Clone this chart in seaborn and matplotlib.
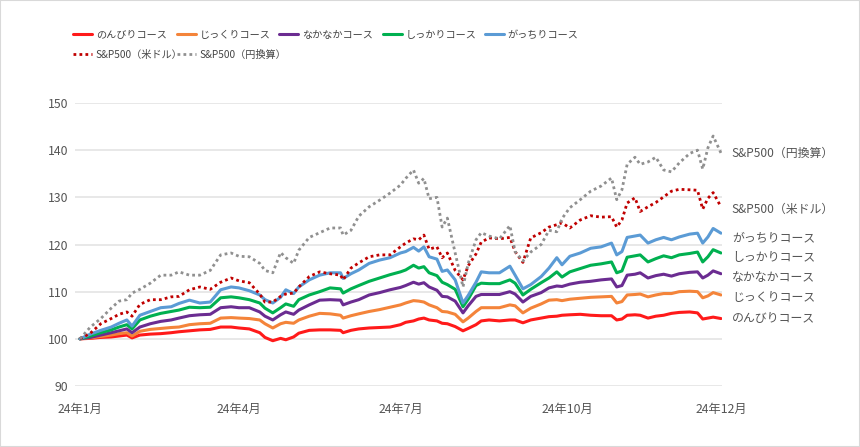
import matplotlib
matplotlib.use('Agg')
from matplotlib import pyplot as plt
from matplotlib.patches import Rectangle
import seaborn as sns
import pandas as pd

sns.set_style('white')
plt.rcParams['font.family'] = ['Noto Sans CJK JP', 'DejaVu Sans']

# trading-day index since 2024-01-02 (sampled)
days = [0, 4, 8, 12, 15, 18, 20, 23, 27, 31, 35, 38, 42, 46, 50, 54, 58, 61, 65, 69,
        71, 74, 77, 79, 82, 84, 88, 92, 96, 100, 101, 104, 107, 111, 115, 119, 123, 125, 128, 130,
        132, 134, 137, 139, 141, 144, 147, 149, 152, 154, 157, 161, 165, 167, 170, 173, 177, 180, 183, 185,
        188, 192, 196, 200, 204, 206, 208, 210, 213, 215, 218, 221, 224, 227, 230, 234, 237, 239, 241, 243,
        246]

tick_days = [0, 61, 123, 187, 246]
tick_labels = ['24年1月', '24年4月', '24年7月', '24年10月', '24年12月']

nonbiri = [100, 100.1, 100.3, 100.4, 100.6, 100.8, 100.2, 100.8, 101, 101.1,
           101.3, 101.5, 101.7, 101.9, 102, 102.5, 102.5, 102.3, 102.1, 101.3,
           100.3, 99.6, 100.1, 99.8, 100.4, 101.2, 101.8, 101.9, 101.9, 101.8,
           101.3, 101.8, 102.1, 102.3, 102.4, 102.5, 103, 103.5, 103.8, 104.2,
           104.4, 104, 103.8, 103.3, 103.2, 102.6, 101.7, 102.2, 103, 103.8,
           104, 103.8, 104, 104, 103.4, 104, 104.4, 104.7, 104.8, 105,
           105.1, 105.2, 105, 104.9, 104.9, 104, 104.2, 105, 105.1, 105,
           104.4, 104.8, 105, 105.4, 105.6, 105.7, 105.5, 104.2, 104.4, 104.6,
           104.3]
jikkuri = [100, 100.2, 100.5, 100.8, 101.1, 101.3, 100.6, 101.6, 102, 102.2,
           102.4, 102.5, 103, 103.2, 103.3, 104.4, 104.5, 104.4, 104.3, 104,
           103.2, 102.3, 103.2, 103.5, 103.3, 104, 104.8, 105.4, 105.3, 105,
           104.4, 104.9, 105.3, 105.8, 106.2, 106.7, 107.2, 107.6, 108.1, 108,
           107.8, 107.2, 106.6, 105.8, 105.7, 105.2, 103.6, 104.4, 105.8, 106.6,
           106.6, 106.6, 107.2, 107, 105.5, 106.5, 107.4, 108.2, 108.3, 108.1,
           108.4, 108.6, 108.8, 108.9, 109, 107.6, 107.9, 109.3, 109.4, 109.5,
           108.9, 109.3, 109.6, 109.6, 110, 110.1, 110, 108.7, 109.1, 109.8,
           109.3]
nakanaka = [100, 100.3, 100.8, 101.3, 101.7, 102.1, 101.3, 102.5, 103.2, 103.7,
            104, 104.4, 104.9, 105.1, 105.2, 106.6, 106.8, 106.6, 106.6, 105.7,
            104.8, 104, 105.1, 105.7, 105.2, 106.1, 107.2, 108.2, 108.3, 108.2,
            107.2, 107.8, 108.3, 109.3, 109.8, 110.4, 110.9, 111.3, 112, 111.6,
            111.9, 111, 110.3, 109, 108.9, 108, 105.5, 107, 109, 109.4,
            109.4, 109.4, 110, 109.5, 107.8, 109, 109.8, 110.8, 111.2, 111.1,
            111.6, 112, 112.2, 112.5, 112.7, 111, 111.3, 113.5, 113.7, 114,
            112.9, 113.4, 113.7, 113.3, 113.8, 114.1, 114.2, 112.9, 113.5, 114.4,
            113.8]
shikkari = [100, 100.6, 101.3, 101.9, 102.5, 103, 102.1, 104, 104.8, 105.4,
            105.8, 106.1, 106.7, 106.6, 106.7, 108.7, 108.9, 108.7, 108.3, 107.6,
            106.5, 105.5, 106.6, 107.4, 106.9, 108.3, 109.3, 110, 110.8, 110.6,
            109.7, 110.6, 111.3, 112.2, 112.9, 113.6, 114.2, 114.6, 115.6, 115,
            115.3, 114, 113.4, 112, 111.5, 110.5, 106.8, 108.4, 111.3, 111.8,
            111.7, 111.7, 112.5, 111.8, 109.3, 110.5, 111.9, 112.9, 114.2, 113.1,
            114.2, 114.9, 115.6, 115.9, 116.3, 114, 114.4, 117.3, 117.6, 117.8,
            116.3, 117, 117.6, 117.2, 117.8, 118.1, 118.4, 116.3, 117.4, 118.9,
            118.2]
gacchiri = [100, 101, 101.8, 102.5, 103.3, 104, 102.7, 105, 105.8, 106.6,
            106.8, 107.5, 108.2, 107.6, 107.8, 110.4, 111, 110.8, 110.2, 109.3,
            108.3, 107.6, 108.8, 110.4, 109.6, 111, 112.5, 113.5, 114, 114,
            112.8, 113.8, 114.6, 116, 116.7, 117.2, 118.2, 118.5, 119.4, 118.6,
            119.5, 117.4, 116.9, 114.3, 114.6, 112.5, 107.6, 109.2, 112, 114.2,
            114, 114, 115.4, 113.5, 110.6, 111.5, 113.2, 115, 117.2, 115.7,
            117.5, 118.2, 119.2, 119.5, 120.3, 117.8, 118.5, 121.5, 121.8, 122,
            120.3, 121, 121.5, 121, 121.6, 122.2, 122.4, 120.3, 121.6, 123.4,
            122.4]
sp500_usd = [100, 101.2, 103.2, 104.3, 105.2, 105.7, 104.8, 107.3, 108.3, 108.3,
             108.9, 109, 110.4, 111, 110.5, 112, 112.9, 112.3, 111.9, 109.5,
             107.8, 107.8, 109, 109.5, 109.7, 111, 113.2, 114.2, 113.8, 113.5,
             112.5, 115, 116.1, 117.4, 117.8, 117.8, 119.5, 120.3, 121.2, 121,
             122, 119, 119.5, 117.2, 118.2, 114.5, 112.5, 115.5, 118, 120.5,
             121.4, 121.2, 121.5, 118.5, 116.2, 121.4, 122.5, 123.7, 124.2, 124.6,
             123.5, 125.2, 126.1, 125.8, 125.9, 123.7, 125.2, 128.8, 129.9, 127,
             128, 128.9, 130.1, 131.3, 131.7, 131.6, 131.5, 127.5, 129.8, 131,
             128]
sp500_jpy = [100, 102.5, 104.3, 106.5, 108, 108.3, 109.7, 110.5, 111.8, 113.5,
             113.5, 114.2, 113.5, 113.5, 114.5, 117.8, 118.2, 117.5, 117.4, 116,
             114.5, 114, 118.3, 117.2, 116, 118.8, 121.5, 122.5, 123.5, 123.5,
             122, 123, 126, 128, 129.4, 130.9, 132.6, 134, 135.8, 133,
             134, 129.7, 130, 123.7, 125.6, 118.2, 111, 116, 121, 122.5,
             121.8, 121.2, 124, 118.5, 116.5, 118.4, 120, 123, 122.7, 125.5,
             127.8, 129.5, 131.3, 132.4, 134.1, 129.5, 131.6, 137, 138.5, 137,
             137.5, 138.5, 135.8, 135.4, 137.3, 139.3, 140, 136, 140.5, 143,
             139.4]

names = ['のんびりコース', 'じっくりコース', 'なかなかコース', 'しっかりコース', 'がっちりコース',
         'S&P500（米ドル）', 'S&P500（円換算）']
series = [nonbiri, jikkuri, nakanaka, shikkari, gacchiri, sp500_usd, sp500_jpy]
colors = ['#ff1a1a', '#f4843a', '#6b2c91', '#00b050', '#5b9bd5', '#c00000', '#909090']
dash = ['', '', '', '', '', (1, 1.2), (1, 1.2)]

# right-hand labels (spread apart so they don't overlap)
label_pos = [104.4, 108.7, 112.9, 117.2, 121.4, 127.5, 139.4]

df = pd.concat([pd.DataFrame({'day': days, 'value': s, 'series': n})
                for n, s in zip(names, series)])

fig = plt.figure(figsize=(8.6, 4.47), dpi=100)
ax = fig.add_axes([75 / 860, 61 / 447, 647 / 860, 283 / 447])

sns.lineplot(data=df, x='day', y='value', hue='series', style='series',
             hue_order=names, style_order=names,
             palette=dict(zip(names, colors)), dashes=dict(zip(names, dash)),
             linewidth=2.2, legend=False, ax=ax)

# the two index lines are thinner dotted lines
for line in ax.get_lines()[5:]:
    line.set_linewidth(2.0)
    line.set_dashes((1, 1.15))

ax.set_xlim(-1.9, 246.4)
ax.set_ylim(90, 150)
ax.set_yticks(range(90, 151, 10))
ax.set_xticks(tick_days)
ax.set_xticklabels(tick_labels)
ax.set_xlabel('')
ax.set_ylabel('')
for sp in ax.spines.values():
    sp.set_visible(False)
ax.grid(axis='y', color='#e6e6e6', linewidth=1.3)
ax.grid(axis='x', visible=False)
ax.tick_params(axis='y', length=0, pad=5, labelsize=8.8, labelcolor='#555555')
ax.tick_params(axis='x', length=4, width=1, color='#dddddd', pad=8,
               labelsize=8.8, labelcolor='#555555')

for n, p in zip(names, label_pos):
    ax.text(250.2, p, n, va='center', ha='left', fontsize=8.6,
            color='#555555', clip_on=False)

# legend laid out on a fixed grid, row by row
lines = ax.get_lines()
slots = [(73, 35), (177, 35), (279, 35), (383, 35), (485, 35), (73, 55), (177, 55)]
for line, n, (px, py) in zip(lines, names, slots):
    fig.legend([line], [n], loc='center left', bbox_to_anchor=(px / 860, 1 - py / 447),
               frameon=False, borderpad=0, borderaxespad=0, handlelength=1.9,
               handletextpad=0.35, fontsize=7.3, labelcolor='#444444')

fig.add_artist(Rectangle((0, 0), 1, 1, transform=fig.transFigure, fill=False,
                         edgecolor='#d9d9d9', linewidth=1.5))

fig.savefig('out.png', dpi=100)
